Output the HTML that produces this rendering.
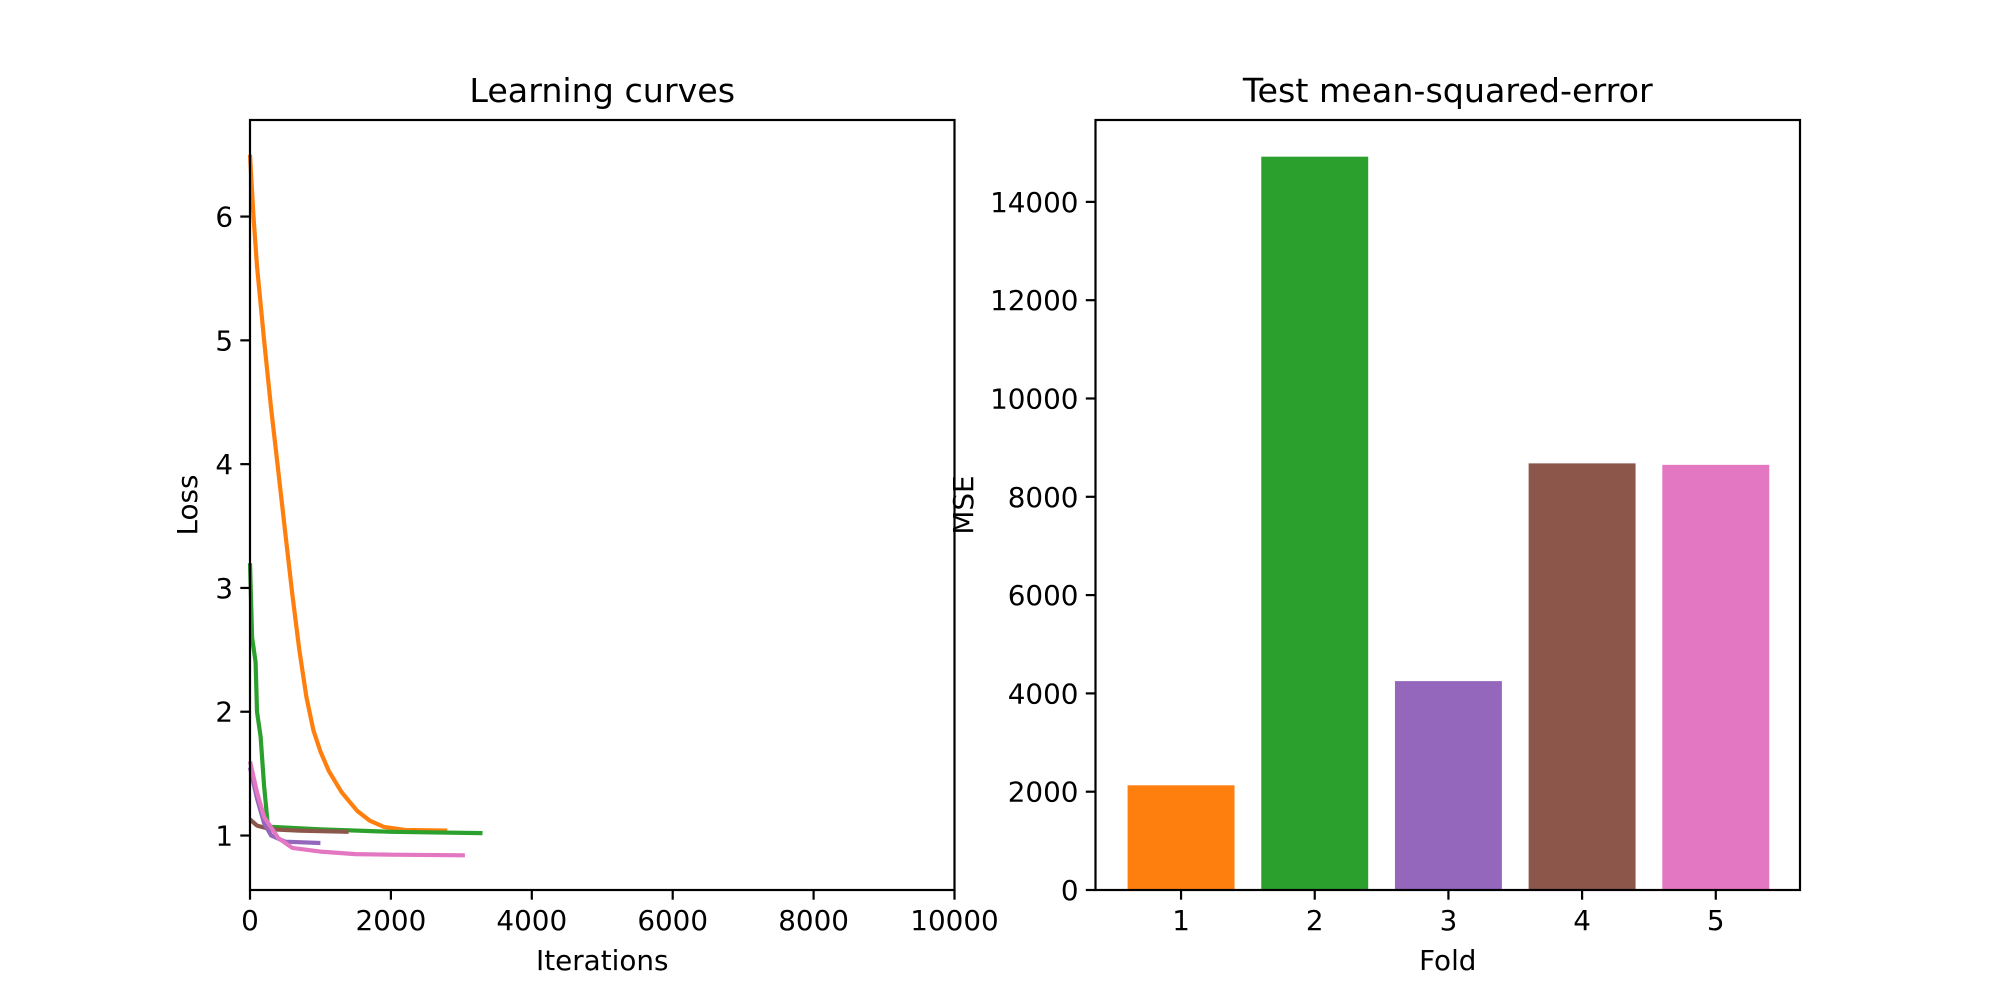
<!DOCTYPE html>
<html><head><meta charset="utf-8"><style>
html,body{margin:0;padding:0;background:#fff}
svg text{font-family:"DejaVu Sans","Liberation Sans",sans-serif;fill:#000}
</style></head><body>
<svg id="fig" width="2000" height="1000" viewBox="0 0 2000 1000" xmlns="http://www.w3.org/2000/svg"></svg>
<script>
const lossXTicks=[0,2000,4000,6000,8000,10000];
const lossYTicks=[1,2,3,4,5,6];
const seriesOrangeX=[0,50,100,200,300,400,500,600,700,800,900,1000,1120,1300,1520,1700,1900,2200,2800];
const seriesOrangeY=[6.5,6.0,5.6,5.0,4.45,3.95,3.45,2.95,2.5,2.12,1.85,1.68,1.52,1.35,1.2,1.12,1.07,1.045,1.04];
const seriesGreenX=[0,30,80,100,150,200,250,300,1000,2000,3300];
const seriesGreenY=[3.2,2.6,2.4,2.0,1.8,1.4,1.1,1.07,1.05,1.03,1.02];
const seriesBrownX=[0,100,300,700,1400];
const seriesBrownY=[1.13,1.08,1.05,1.04,1.03];
const seriesPurpleX=[0,100,200,300,500,1000];
const seriesPurpleY=[1.55,1.3,1.1,1.0,0.95,0.94];
const seriesPinkX=[0,100,200,400,600,1000,1500,2000,3050];
const seriesPinkY=[1.6,1.35,1.15,0.98,0.9,0.87,0.85,0.845,0.84];
const folds=[1,2,3,4,5];
const mseValues=[2130,14920,4250,8680,8650];
const mseYTicks=[0,2000,4000,6000,8000,10000,12000,14000];

const NS="http://www.w3.org/2000/svg";
const svg=document.getElementById('fig');
function mk(tag,attrs,parent,txt){const e=document.createElementNS(NS,tag);for(const k in attrs)e.setAttribute(k,attrs[k]);if(txt!==undefined)e.textContent=txt;(parent||svg).appendChild(e);return e;}
const plotTop=120,plotBot=890;
const a1L=250,a1R=954.5;
const x1=v=>a1L+(v-0)/(10000-0)*(a1R-a1L);
const y1=v=>plotBot-(v-0.56)/(6.78-0.56)*(plotBot-plotTop);
const a2L=1095.5,a2R=1800;
const x2=v=>a2L+(v-0.36)/(5.63-0.36)*(a2R-a2L);
const y2=v=>plotBot-(v/15666)*(plotBot-plotTop);

const g1=mk('g',{});


const series=[[seriesOrangeX,seriesOrangeY,'#ff7f0e','orange'],[seriesGreenX,seriesGreenY,'#2ca02c','green'],[seriesBrownX,seriesBrownY,'#8c564b','brown'],[seriesPurpleX,seriesPurpleY,'#9467bd','purple'],[seriesPinkX,seriesPinkY,'#e377c2','pink']];
for(const [xs,ys,c,n] of series){
  const d=xs.map((x,i)=>(i?'L':'M')+x1(x).toFixed(1)+','+y1(ys[i]).toFixed(1)).join(' ');
  const p=mk('path',{d:d,fill:'none',stroke:c,'stroke-width':4.2,'stroke-linejoin':'round'},g1);
  
  
}
mk('rect',{x:a1L,y:plotTop,width:a1R-a1L,height:plotBot-plotTop,fill:'none',stroke:'#000','stroke-width':2.2},g1);
for(const t of lossXTicks){const x=x1(t);mk('line',{x1:x,x2:x,y1:plotBot,y2:plotBot+9.7,stroke:'#000','stroke-width':2.2},g1);
  const tx=mk('text',{x:x,y:930,'font-size':27.8,'text-anchor':'middle'},g1,String(t));
  
  }
for(const t of lossYTicks){const y=y1(t);mk('line',{x1:a1L-9.7,x2:a1L,y1:y,y2:y,stroke:'#000','stroke-width':2.2},g1);
  const tx=mk('text',{x:a1L-17,y:y+10,'font-size':27.8,'text-anchor':'end'},g1,String(t));
  
  }
let t=mk('text',{x:(a1L+a1R)/2,y:102,'font-size':33.3,'text-anchor':'middle'},g1,'Learning curves');


t=mk('text',{x:(a1L+a1R)/2,y:970,'font-size':27.8,'text-anchor':'middle'},g1,'Iterations');


t=mk('text',{x:197,y:(plotTop+plotBot)/2,'font-size':27.8,'text-anchor':'middle',transform:`rotate(-90 197 ${(plotTop+plotBot)/2})`},g1,'Loss');



const g2=mk('g',{});


const barColors=['#ff7f0e','#2ca02c','#9467bd','#8c564b','#e377c2'];
folds.forEach((f,i)=>{const l=x2(f-0.4),r=x2(f+0.4);
  const b=mk('rect',{x:l,y:y2(mseValues[i]),width:r-l,height:plotBot-y2(mseValues[i]),fill:barColors[i]},g2);
  
  });
mk('rect',{x:a2L,y:plotTop,width:a2R-a2L,height:plotBot-plotTop,fill:'none',stroke:'#000','stroke-width':2.2},g2);
for(const f of folds){const x=x2(f);mk('line',{x1:x,x2:x,y1:plotBot,y2:plotBot+9.7,stroke:'#000','stroke-width':2.2},g2);
  const tx=mk('text',{x:x,y:930,'font-size':27.8,'text-anchor':'middle'},g2,String(f));
  
  }
for(const v of mseYTicks){const y=y2(v);mk('line',{x1:a2L-9.7,x2:a2L,y1:y,y2:y,stroke:'#000','stroke-width':2.2},g2);
  const tx=mk('text',{x:a2L-17,y:y+10,'font-size':27.8,'text-anchor':'end'},g2,String(v));
  
  }
t=mk('text',{x:(a2L+a2R)/2,y:102,'font-size':33.3,'text-anchor':'middle'},g2,'Test mean-squared-error');


t=mk('text',{x:(a2L+a2R)/2,y:970,'font-size':27.8,'text-anchor':'middle'},g2,'Fold');


t=mk('text',{x:973,y:(plotTop+plotBot)/2,'font-size':27.8,'text-anchor':'middle',transform:`rotate(-90 973 ${(plotTop+plotBot)/2})`},g2,'MSE');


</script>
</body></html>
